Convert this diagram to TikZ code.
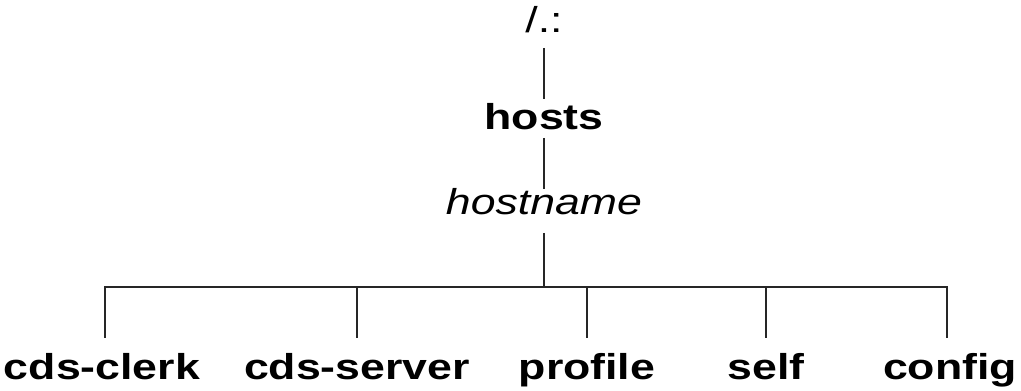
\documentclass[tikz,border=0pt]{standalone}
\usepackage{fontspec}
\newfontfamily\lblfont[FakeStretch=1.24]{Liberation Sans}
\begin{document}
\begin{tikzpicture}[x=1pt,y=1pt,
  lbl/.style={inner sep=0pt,outer sep=0pt,anchor=base,text height=24pt,text depth=7pt,
    font=\lblfont\fontsize{36}{42}\selectfont},
  bold/.style={lbl,font=\lblfont\fontsize{36}{42}\selectfont\bfseries},
  ital/.style={lbl,font=\lblfont\fontsize{36}{42}\selectfont\itshape},
  conn/.style={line width=1.3pt,black!85}]
\useasboundingbox (0,0) rectangle (1021,391);
\node[lbl]  (root)  at (544,358) {/.:};
\node[bold] (hosts) at (544,261) {hosts};
\node[ital] (hname) at (544,176) {hostname};
\coordinate (bar) at (544,104);
\node[bold] (c1) at (102,11) {cds-clerk};
\node[bold] (c2) at (357,11) {cds-server};
\node[bold] (c3) at (587,11) {profile};
\node[bold] (c4) at (766,11) {self};
\node[bold] (c5) at (950,11) {config};
\draw[conn,shorten <=8pt,shorten >=7pt] (root.south) -- (hosts.north);
\draw[conn,shorten <=1pt,shorten >=2pt] (hosts.south) -- (hname.north);
\draw[conn,shorten <=11pt] (hname.south) -- (bar);
\draw[conn] ([xshift=3pt,yshift=18pt]c1.north) |- ([xshift=-3pt]c5.north |- bar) -- ([xshift=-3pt,yshift=18pt]c5.north);
\foreach \c in {c2,c3,c4} \draw[conn] ([yshift=18pt]\c.north) -- (\c.north |- bar);
\end{tikzpicture}
\end{document}
